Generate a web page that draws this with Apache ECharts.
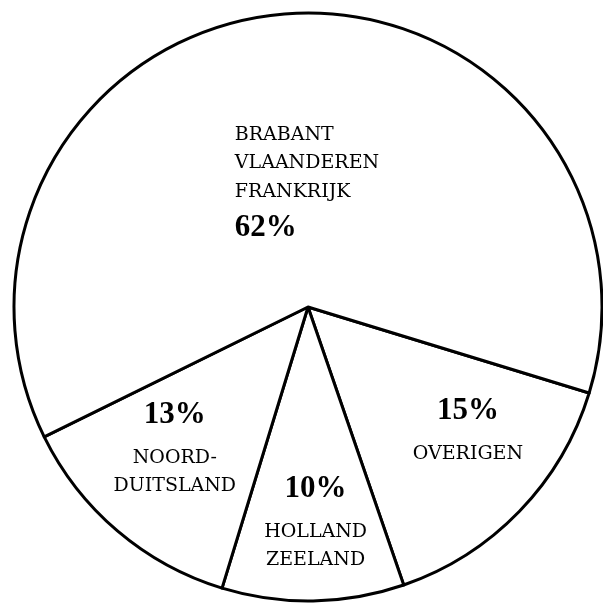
<!DOCTYPE html>
<html>
<head>
<meta charset="utf-8">
<style>
  html, body { margin: 0; padding: 0; background: #ffffff; }
  #chart { width: 603px; height: 606px; }
</style>
<script src="https://cdn.jsdelivr.net/npm/echarts@6/dist/echarts.min.js"></script>
</head>
<body>
<div id="chart"></div>
<script>
// Data (clockwise from the right-hand boundary)
const regions = [
  ['OVERIGEN'],
  ['HOLLAND', 'ZEELAND'],
  ['NOORD-', 'DUITSLAND'],
  ['BRABANT', 'VLAANDEREN', 'FRANKRIJK']
];
const shares = [15, 10, 13, 62];
const percentLabels = ['15%', '10%', '13%', '62%'];

// Label offsets relative to the default "inside" position
const labelShift = [[52, 14], [5, 60], [-36, 22], [11, 28]];

const chart = echarts.init(document.getElementById('chart'), null, { renderer: 'canvas' });

const data = shares.map((v, i) => {
  const top = i === 3;
  const lines = regions[i].map(t => '{txt|' + t + '}');
  const formatted = top
    ? lines.join('\n') + '\n{numTop|' + percentLabels[i] + '}'
    : '{num|' + percentLabels[i] + '}\n' + lines.join('\n');
  return {
    value: v,
    name: regions[i].join(' '),
    label: { formatter: formatted,
      rich: top ? {
        txt: { fontFamily: 'DejaVu Serif', fontSize: 19, color: '#000', lineHeight: 28.5, align: 'left' },
        numTop: { fontFamily: 'Liberation Serif', fontWeight: 'bold', fontSize: 31, color: '#000', lineHeight: 44, align: 'left' }
      } : {
        txt: { fontFamily: 'DejaVu Serif', fontSize: 19, color: '#000', lineHeight: 28, align: 'center' },
        num: { fontFamily: 'Liberation Serif', fontWeight: 'bold', fontSize: 31, color: '#000', lineHeight: 58, align: 'center' }
      }
    }
  };
});

chart.setOption({
  backgroundColor: '#ffffff',
  animation: false,
  series: [{
    type: 'pie',
    center: [308, 307],
    radius: [0, 294],
    startAngle: -17,
    clockwise: true,
    avoidLabelOverlap: false,
    silent: true,
    emphasis: { disabled: true },
    itemStyle: { color: '#ffffff', borderColor: '#000000', borderWidth: 3 },
    label: { show: true, position: 'inside' },
    labelLine: { show: false },
    labelLayout: function (params) {
      const s = labelShift[params.dataIndex];
      return { dx: s[0], dy: s[1] };
    },
    data: data
  }]
});
</script>
</body>
</html>
